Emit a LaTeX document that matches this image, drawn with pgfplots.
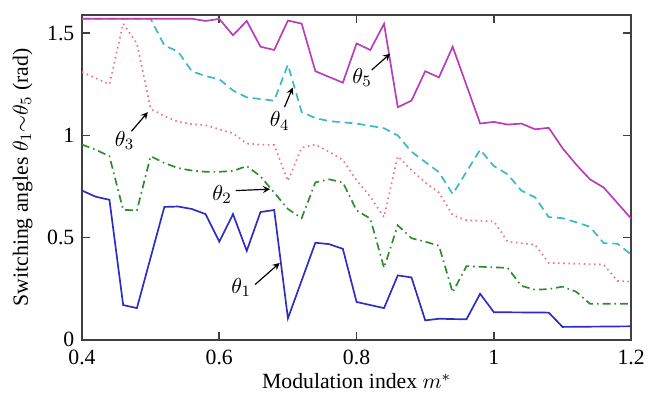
\documentclass[border=0pt]{standalone}
\usepackage{fontspec}
\setmainfont{Liberation Serif}
\usepackage{pgfplots}
\pgfplotsset{compat=1.18}

\definecolor{cth1}{RGB}{45,45,195}
\definecolor{cth2}{RGB}{45,140,45}
\definecolor{cth3}{RGB}{240,115,135}
\definecolor{cth4}{RGB}{55,185,200}
\definecolor{cth5}{RGB}{185,60,185}

\begin{document}
\fontsize{11}{13}\selectfont
\begin{tikzpicture}
\begin{axis}[
  at={(0,0)}, anchor=south west,
  scale only axis, width=278pt, height=164.5pt,
  xmin=0.4, xmax=1.2, ymin=0, ymax=1.59,
  xtick={0.4,0.6,0.8,1,1.2},
  ytick={0,0.5,1,1.5},
  /pgf/number format/assume math mode=true,
  axis line style={black!75, line width=0.9pt},
  tick style={black!75, line width=0.8pt},
  major tick length=4pt,
  xticklabel style={yshift=-1.5pt},
  every axis x label/.style={at={(axis description cs:0.5,-0.128)}, anchor=center},
  every axis y label/.style={at={(axis description cs:-0.108,0.5)}, rotate=90, anchor=center},
  xlabel={Modulation index $m^{*}$},
  ylabel={Switching angles $\theta_1{\sim}\theta_5$ (rad)},
  every axis plot/.append style={line width=0.85pt},
]
% theta_1
\addplot[cth1] coordinates {
 (0.40,0.73) (0.42,0.70) (0.44,0.685) (0.46,0.17) (0.48,0.155) (0.52,0.65)
 (0.54,0.652) (0.56,0.64) (0.58,0.615) (0.60,0.48) (0.62,0.615) (0.64,0.435)
 (0.66,0.625) (0.68,0.635) (0.70,0.105) (0.74,0.475) (0.76,0.468) (0.78,0.445)
 (0.80,0.185) (0.84,0.155) (0.86,0.315) (0.88,0.305) (0.90,0.095) (0.92,0.103)
 (0.96,0.10) (0.98,0.225) (1.00,0.135) (1.08,0.133) (1.10,0.063) (1.20,0.066)
};
% theta_2
\addplot[cth2, dash pattern=on 4pt off 2pt on 0.8pt off 2pt] coordinates {
 (0.40,0.955) (0.42,0.93) (0.44,0.898) (0.46,0.636) (0.48,0.633) (0.50,0.898)
 (0.52,0.865) (0.54,0.84) (0.56,0.828) (0.58,0.822) (0.60,0.822) (0.62,0.826)
 (0.64,0.85) (0.66,0.80) (0.68,0.72) (0.70,0.64) (0.72,0.595) (0.74,0.77)
 (0.76,0.785) (0.78,0.77) (0.80,0.633) (0.82,0.593) (0.84,0.352) (0.86,0.56)
 (0.88,0.497) (0.90,0.48) (0.92,0.46) (0.94,0.232) (0.96,0.36) (1.02,0.352)
 (1.04,0.264) (1.06,0.245) (1.08,0.248) (1.10,0.26) (1.12,0.235) (1.14,0.176)
 (1.20,0.176)
};
% theta_3
\addplot[cth3, dash pattern=on 0.8pt off 1.8pt] coordinates {
 (0.40,1.31) (0.42,1.28) (0.44,1.25) (0.46,1.547) (0.48,1.45) (0.50,1.13)
 (0.52,1.095) (0.54,1.066) (0.56,1.055) (0.58,1.05) (0.60,1.03) (0.62,1.01)
 (0.64,0.96) (0.66,0.955) (0.68,0.953) (0.70,0.777) (0.72,0.94) (0.74,0.955)
 (0.76,0.92) (0.78,0.88) (0.80,0.78) (0.82,0.70) (0.84,0.60) (0.86,0.898)
 (0.88,0.83) (0.90,0.77) (0.92,0.72) (0.94,0.61) (0.96,0.585) (1.00,0.58)
 (1.02,0.48) (1.06,0.465) (1.08,0.376) (1.16,0.368) (1.18,0.288) (1.20,0.285)
};
% theta_4
\addplot[cth4, dash pattern=on 4pt off 2.5pt] coordinates {
 (0.40,1.5708) (0.50,1.5708) (0.52,1.44) (0.54,1.41) (0.56,1.314) (0.58,1.29)
 (0.60,1.275) (0.62,1.22) (0.64,1.186) (0.66,1.178) (0.68,1.17) (0.70,1.346)
 (0.72,1.114) (0.74,1.085) (0.76,1.07) (0.80,1.058) (0.84,1.035) (0.86,1.00)
 (0.88,0.92) (0.90,0.87) (0.92,0.82) (0.94,0.713) (0.98,0.93) (1.00,0.85)
 (1.02,0.81) (1.04,0.73) (1.06,0.697) (1.08,0.60) (1.10,0.595) (1.12,0.575)
 (1.14,0.553) (1.16,0.473) (1.18,0.47) (1.20,0.417)
};
% theta_5
\addplot[cth5] coordinates {
 (0.40,1.5708) (0.56,1.5708) (0.58,1.56) (0.60,1.57) (0.62,1.49) (0.64,1.56)
 (0.66,1.434) (0.68,1.418) (0.70,1.562) (0.72,1.547) (0.74,1.314) (0.78,1.258)
 (0.80,1.45) (0.82,1.418) (0.84,1.546) (0.86,1.138) (0.88,1.17) (0.90,1.314)
 (0.92,1.284) (0.94,1.434) (0.98,1.058) (1.00,1.066) (1.02,1.053) (1.04,1.058)
 (1.06,1.03) (1.08,1.037) (1.10,0.9375) (1.12,0.857) (1.14,0.785) (1.16,0.745)
 (1.20,0.593)
};
% annotations
\node at (axis cs:0.632,0.255) {$\theta_1$};
\draw[-stealth, line width=0.6pt] (axis cs:0.652,0.27) -- (axis cs:0.688,0.376);
\node at (axis cs:0.604,0.71) {$\theta_2$};
\draw[-stealth, line width=0.6pt] (axis cs:0.624,0.73) -- (axis cs:0.674,0.737);
\node at (axis cs:0.462,0.975) {$\theta_3$};
\draw[-stealth, line width=0.6pt] (axis cs:0.472,1.02) -- (axis cs:0.496,1.114);
\node at (axis cs:0.688,1.07) {$\theta_4$};
\draw[-stealth, line width=0.6pt] (axis cs:0.695,1.138) -- (axis cs:0.707,1.234);
\node at (axis cs:0.808,1.285) {$\theta_5$};
\draw[-stealth, line width=0.6pt] (axis cs:0.822,1.32) -- (axis cs:0.849,1.40);
\end{axis}
\path (-41.5pt,-29pt) rectangle (285.5pt,172pt);
\end{tikzpicture}
\end{document}
